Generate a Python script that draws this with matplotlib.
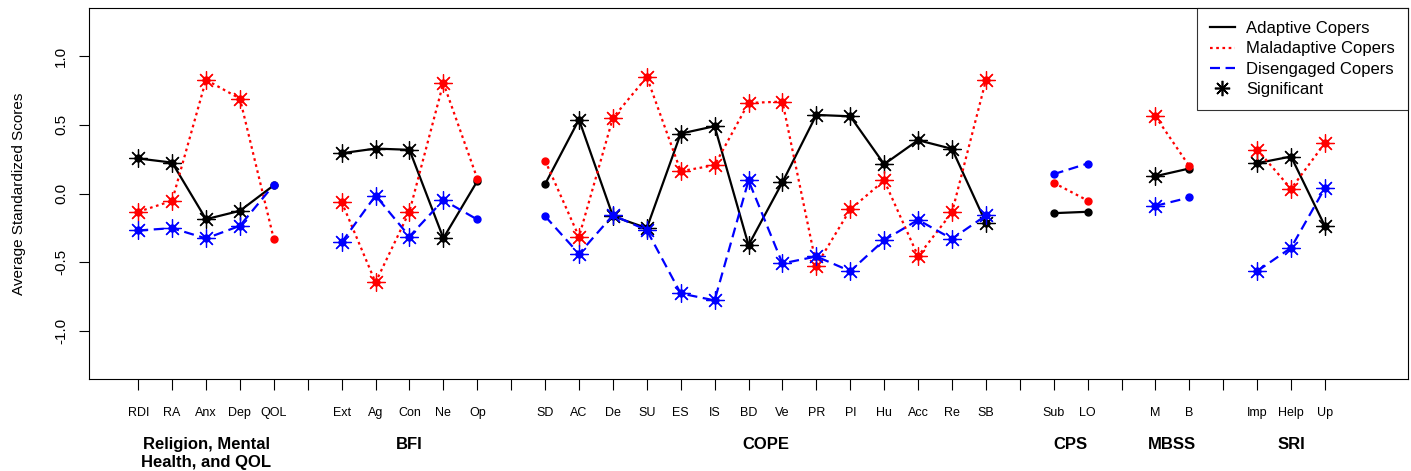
import numpy as np
import matplotlib
matplotlib.use("Agg")
import matplotlib.pyplot as plt
from matplotlib.lines import Line2D
import matplotlib.transforms as mtransforms

plt.rcParams['font.family'] = ['Liberation Sans', 'DejaVu Sans']

groups = ["Religion, Mental\nHealth, and QOL", "BFI", "COPE", "CPS", "MBSS", "SRI"]
items = [
    ["RDI", "RA", "Anx", "Dep", "QOL"],
    ["Ext", "Ag", "Con", "Ne", "Op"],
    ["SD", "AC", "De", "SU", "ES", "IS", "BD", "Ve", "PR", "Pl", "Hu", "Acc", "Re", "SB"],
    ["Sub", "LO"],
    ["M", "B"],
    ["Imp", "Help", "Up"],
]

adaptive = [0.255, 0.225, -0.187, -0.126, 0.06,
            0.293, 0.327, 0.318, -0.325, 0.09,
            0.068, 0.538, -0.165, -0.252, 0.436, 0.49, -0.376, 0.082, 0.572, 0.562, 0.213, 0.388, 0.325, -0.213,
            -0.143, -0.133,
            0.126, 0.182,
            0.221, 0.269, -0.238]
maladaptive = [-0.133, -0.053, 0.827, 0.691, -0.332,
               -0.061, -0.647, -0.131, 0.805, 0.109,
               0.24, -0.315, 0.55, 0.848, 0.162, 0.206, 0.659, 0.669, -0.524, -0.116, 0.095, -0.456, -0.138, 0.824,
               0.078, -0.051,
               0.562, 0.199,
               0.32, 0.034, 0.368]
disengaged = [-0.269, -0.252, -0.327, -0.235, 0.063,
              -0.356, -0.015, -0.313, -0.048, -0.189,
              -0.165, -0.439, -0.158, -0.267, -0.727, -0.778, 0.095, -0.509, -0.458, -0.565, -0.339, -0.192, -0.33, -0.16,
              0.141, 0.218,
              -0.09, -0.029,
              -0.565, -0.395, 0.041]
significant = [1, 1, 1, 1, 0,
               1, 1, 1, 1, 0,
               0, 1, 1, 1, 1, 1, 1, 1, 1, 1, 1, 1, 1, 1,
               0, 0,
               1, 0,
               1, 1, 1]

# x positions: one empty slot between groups
xpos = []
group_pos = []
slices = []
x = 1
for g in items:
    start = len(xpos)
    gx = list(range(x, x + len(g)))
    xpos += gx
    group_pos.append(np.mean(gx))
    slices.append(slice(start, start + len(g)))
    x += len(g) + 1
xpos = np.array(xpos)
sig = np.array(significant, dtype=bool)
all_ticks = np.arange(1, xpos.max() + 1)
tick_labels = [""] * len(all_ticks)
flat_items = [it for g in items for it in g]
for p, lab in zip(xpos, flat_items):
    tick_labels[p - 1] = lab

fig = plt.figure(figsize=(14.11, 4.71), dpi=100)
ax = fig.add_axes([0.0631, 0.1953, 0.9348, 0.7877])

red_ls = (0, (1.2, 1.6))
blue_ls = (0, (4.5, 2.5))
series = [
    (adaptive, "black", "-", "Adaptive Copers"),
    (maladaptive, "red", red_ls, "Maladaptive Copers"),
    (disengaged, "blue", blue_ls, "Disengaged Copers"),
]
for vals, col, ls, lab in series:
    vals = np.array(vals)
    for s in slices:
        ax.plot(xpos[s], vals[s], color=col, linestyle=ls, linewidth=1.6)
    ax.plot(xpos, vals, linestyle="none", marker="o", markersize=5, color=col)
    ax.plot(xpos[sig], vals[sig], linestyle="none", marker=(8, 2, 0), markersize=13,
            markeredgewidth=0.9, color=col)

ax.set_xlim(-0.45, 38.45)
ax.set_ylim(-1.35, 1.35)
ax.set_yticks([-1.0, -0.5, 0.0, 0.5, 1.0])
ax.set_yticklabels(["-1.0", "-0.5", "0.0", "0.5", "1.0"], rotation=90, va="center", fontsize=11)
ax.set_xticks(all_ticks)
ax.set_xticklabels(tick_labels, fontsize=9)
ax.tick_params(axis="x", length=8, width=0.8, pad=12, direction="out")
ax.tick_params(axis="y", length=7, width=0.8, pad=8, direction="out")
ax.set_ylabel("Average Standardized Scores", fontsize=11, labelpad=20)

trans = mtransforms.blended_transform_factory(ax.transData, ax.transAxes)
for gp, gname in zip(group_pos, groups):
    ax.text(gp, -0.155, gname, transform=trans, ha="center", va="top",
            fontsize=12, fontweight="bold", linespacing=1.25)

handles = [
    Line2D([], [], color="black", linestyle="-", linewidth=1.6),
    Line2D([], [], color="red", linestyle=red_ls, linewidth=1.6),
    Line2D([], [], color="blue", linestyle=blue_ls, linewidth=1.6),
    Line2D([], [], color="black", linestyle="none", marker=(8, 2, 0), markersize=11, markeredgewidth=1.2),
]
labels = ["Adaptive Copers", "Maladaptive Copers", "Disengaged Copers", "Significant"]
leg = ax.legend(handles, labels, loc="upper right", fontsize=12, frameon=True, fancybox=False,
                borderaxespad=0, handlelength=1.5, labelspacing=0.32, borderpad=0.78, handletextpad=0.7)
leg.get_frame().set_edgecolor("black")
leg.get_frame().set_linewidth(0.8)

fig.savefig("out.png", dpi=100)
